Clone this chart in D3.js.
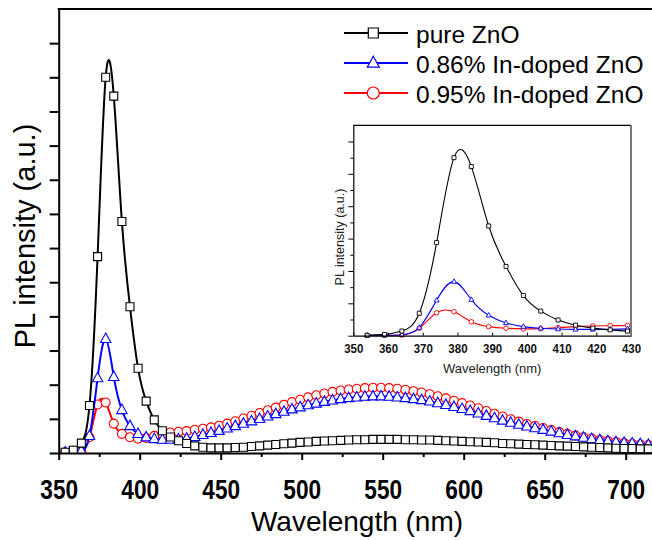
<!DOCTYPE html>
<html><head><meta charset="utf-8">
<script src="https://cdn.jsdelivr.net/npm/d3@7/dist/d3.min.js"></script>
<style>body{margin:0;background:#fff}svg{display:block;font-family:"Liberation Sans",Arial,sans-serif}</style>
</head><body><svg id="c" width="652" height="540"></svg>
<script>
// ---- data ----
const wavelengths = [354,359,364,369,374,379,384,389,394,399,404,409,414,419,424,429,434,439,444,449,
  454,459,464,469,474,479,484,489,494,499,504,509,514,519,524,529,534,539,544,549,
  554,559,564,569,574,579,584,589,594,599,604,609,614,619,624,629,634,639,644,649,
  654,659,664,669,674,679,684,689,694,699,704,709,714];
const pureZnO = [0.02,0.08,0.29,1.39,5.75,11.0,10.45,6.78,4.28,2.48,1.52,0.97,0.65,0.47,0.36,0.28,0.21,0.17,0.15,0.15,
  0.15,0.16,0.17,0.19,0.21,0.23,0.25,0.27,0.29,0.31,0.32,0.34,0.35,0.36,0.37,0.38,0.39,0.39,0.40,0.40,
  0.40,0.40,0.39,0.39,0.38,0.38,0.37,0.36,0.35,0.34,0.33,0.32,0.31,0.30,0.28,0.27,0.26,0.25,0.24,0.23,
  0.22,0.21,0.20,0.19,0.18,0.17,0.16,0.15,0.14,0.13,0.13,0.12,0.12];
const inDoped086 = [0.02,0.03,0.06,0.50,2.19,3.34,2.23,1.26,0.79,0.56,0.46,0.41,0.39,0.39,0.40,0.42,0.47,0.53,0.59,0.65,
  0.72,0.79,0.86,0.93,1.00,1.07,1.14,1.21,1.28,1.34,1.40,1.45,1.50,1.54,1.58,1.61,1.63,1.65,1.66,1.66,
  1.65,1.63,1.61,1.58,1.55,1.51,1.46,1.41,1.35,1.29,1.23,1.16,1.09,1.02,0.95,0.89,0.83,0.78,0.73,0.68,
  0.63,0.58,0.53,0.49,0.45,0.41,0.38,0.35,0.32,0.30,0.28,0.26,0.24];
const inDoped095 = [0.02,0.02,0.04,0.46,1.42,1.48,0.86,0.56,0.46,0.42,0.44,0.50,0.56,0.60,0.62,0.64,0.68,0.71,0.75,0.80,
  0.86,0.93,1.01,1.09,1.17,1.25,1.33,1.41,1.49,1.56,1.63,1.69,1.74,1.79,1.83,1.86,1.88,1.90,1.91,1.91,
  1.90,1.88,1.85,1.81,1.77,1.72,1.66,1.60,1.53,1.46,1.39,1.31,1.23,1.15,1.07,0.99,0.92,0.85,0.79,0.73,
  0.67,0.61,0.56,0.51,0.46,0.42,0.38,0.35,0.32,0.29,0.27,0.25,0.23];
const seriesNames = ["pure ZnO","0.86% In-doped ZnO","0.95% In-doped ZnO"];
const seriesColors = ["#000000","#0000ff","#ff0000"];
const seriesSymbols = ["square","triangle","circle"];
const xTicksMain = [350,400,450,500,550,600,650,700];
const xMinorMain = [375,425,475,525,575,625,675];
const yTicksMain = [0,1,2,3,4,5,6,7,8,9,10,11,12];
const xTicksInset = [350,360,370,380,390,400,410,420,430];
const yTicksInset = [0,1,2,3,4,5,6,7,8,9,10,11,12];

const seriesValues = [pureZnO, inDoped086, inDoped095];
const series = seriesNames.map((n,i)=>({name:n,color:seriesColors[i],sym:seriesSymbols[i],
  pts:wavelengths.map((w,j)=>({w:w,v:seriesValues[i][j]}))}));
const drawOrder = [2,1,0];

const svg = d3.select("#c");

function markerPath(sym, s){
  if(sym==="square") return `M${-s/2},${-s/2}h${s}v${s}h${-s}Z`;
  if(sym==="triangle"){const w=s*1.1,h=s; return `M0,${-h*0.62}L${w/2},${h*0.38}L${-w/2},${h*0.38}Z`;}
  const r=s/2; return `M${-r},0a${r},${r} 0 1,0 ${2*r},0a${r},${r} 0 1,0 ${-2*r},0Z`;
}

// ---- main chart ----
const x = d3.scaleLinear().domain([350,720]).range([58.7, 58.7+370*1.62]);
const y = d3.scaleLinear().domain([0,13]).range([453, 9]);

svg.append("clipPath").attr("id","mclip").append("rect").attr("x",58.7).attr("y",0).attr("width",600).attr("height",454);
const plot = svg.append("g").attr("clip-path","url(#mclip)");
const line = d3.line().x(d=>x(d.w)).y(d=>y(d.v)).curve(d3.curveNatural);
drawOrder.forEach(i=>{
  const s = series[i];
  plot.append("path").attr("d",line(s.pts)).attr("fill","none").attr("stroke",s.color).attr("stroke-width",2);
  plot.selectAll(null).data(s.pts).enter().append("path")
    .attr("d",markerPath(s.sym, s.sym==="square"?8:(s.sym==="triangle"?9.5:9)))
    .attr("transform",d=>`translate(${x(d.w)},${y(d.v)})`)
    .attr("fill","#fff").attr("stroke",s.color).attr("stroke-width",1.1);
});

// axes
const xAxis = svg.append("g").attr("transform","translate(0,453)")
  .call(d3.axisBottom(x).tickValues(xTicksMain).tickSize(7).tickSizeOuter(0).tickFormat(d3.format("d")));
xAxis.select(".domain").attr("stroke-width",2);
xAxis.selectAll(".tick line").attr("stroke-width",2);
xAxis.selectAll(".tick text").attr("font-size",27).attr("font-weight","bold").attr("font-family","'Liberation Sans',Arial,sans-serif")
  .attr("y",46).attr("dy",0).attr("transform","scale(0.84,1)").attr("fill","#000");
const xMinor = svg.append("g").attr("transform","translate(0,453)")
  .call(d3.axisBottom(x).tickValues(xMinorMain).tickSize(4).tickSizeOuter(0).tickFormat(""));
xMinor.select(".domain").remove();
xMinor.selectAll(".tick line").attr("stroke-width",2);

const yAxis = svg.append("g").attr("transform","translate(58.7,0)")
  .call(d3.axisLeft(y).tickValues(yTicksMain).tickSize(9).tickSizeOuter(0).tickFormat(""));
yAxis.select(".domain").attr("stroke-width",2);
yAxis.selectAll(".tick line").attr("stroke-width",2);
svg.append("line").attr("x1",57.7).attr("x2",652).attr("y1",y(13)).attr("y2",y(13)).attr("stroke","#000").attr("stroke-width",2);

svg.append("text").attr("x",357).attr("y",531).attr("text-anchor","middle").attr("font-size",28).text("Wavelength (nm)");
svg.append("text").attr("transform","translate(35,236) rotate(-90)").attr("text-anchor","middle").attr("font-size",29).text("PL intensity (a.u.)");

// legend
const legY = [33,63,93];
series.forEach((s,i)=>{
  const g = svg.append("g").attr("transform",`translate(0,${legY[i]})`);
  g.append("line").attr("x1",344).attr("x2",408).attr("y1",0).attr("y2",0).attr("stroke",s.color).attr("stroke-width",2);
  g.append("path").attr("d",markerPath(s.sym, s.sym==="square"?10:(s.sym==="triangle"?11:12)))
    .attr("transform","translate(373.3,0)").attr("fill","#fff").attr("stroke",s.color).attr("stroke-width",1.2);
  g.append("text").attr("x",416).attr("y",9.5).attr("font-size",24.5).text(s.name);
});

// ---- inset ----
const xi = d3.scaleLinear().domain([350,430]).range([353.3,631]);
const yi = d3.scaleLinear().domain([0,13]).range([335.7,125.3]);
svg.append("rect").attr("x",353.3).attr("y",125.3).attr("width",631-353.3).attr("height",335.7-125.3).attr("fill","#fff");
svg.append("clipPath").attr("id","iclip").append("rect").attr("x",353.3).attr("y",125.3).attr("width",631-353.3).attr("height",335.7-125.3+3);
const inset = svg.append("g").attr("clip-path","url(#iclip)");
const iline = d3.line().x(d=>xi(d.w)).y(d=>yi(d.v)).curve(d3.curveNatural);
drawOrder.forEach(i=>{
  const s = series[i];
  const pts = s.pts.filter(d=>d.w<=440);
  inset.append("path").attr("d",iline(pts)).attr("fill","none").attr("stroke",s.color).attr("stroke-width",1.1);
  inset.selectAll(null).data(pts.filter(d=>d.w<=430)).enter().append("path")
    .attr("d",markerPath(s.sym, s.sym==="square"?4:(s.sym==="triangle"?4.5:4.6)))
    .attr("transform",d=>`translate(${xi(d.w)},${yi(d.v)})`)
    .attr("fill","#fff").attr("stroke",s.color).attr("stroke-width",0.9);
});
const ixAxis = svg.append("g").attr("transform","translate(0,335.7)")
  .call(d3.axisBottom(xi).tickValues(xTicksInset).tickSize(-3).tickSizeOuter(0).tickFormat(d3.format("d")));
ixAxis.select(".domain").attr("stroke-width",1.2);
ixAxis.selectAll(".tick text").attr("font-size",12.5).attr("font-weight","bold").attr("font-family","'Liberation Sans',Arial,sans-serif")
  .attr("y",17).attr("dy",0).attr("transform","scale(0.92,1)").attr("fill","#111");
const iyAxis = svg.append("g").attr("transform","translate(353.3,0)")
  .call(d3.axisLeft(yi).tickValues(yTicksInset).tickSizeOuter(0).tickFormat(""));
iyAxis.select(".domain").attr("stroke-width",1.2);
iyAxis.selectAll(".tick line").attr("x2",d=>d%2===0?-5:-3);
svg.append("line").attr("x1",353.3).attr("x2",631).attr("y1",125.3).attr("y2",125.3).attr("stroke","#000").attr("stroke-width",1.2);
svg.append("line").attr("x1",631).attr("x2",631).attr("y1",125.3).attr("y2",335.7).attr("stroke","#777").attr("stroke-width",2);
svg.append("text").attr("x",492.2).attr("y",372.5).attr("text-anchor","middle").attr("font-size",13).attr("fill","#222").text("Wavelength (nm)");
svg.append("text").attr("transform","translate(344,237) rotate(-90)").attr("text-anchor","middle").attr("font-size",12.5).attr("fill","#222").text("PL intensity (a.u.)");
</script></body></html>
